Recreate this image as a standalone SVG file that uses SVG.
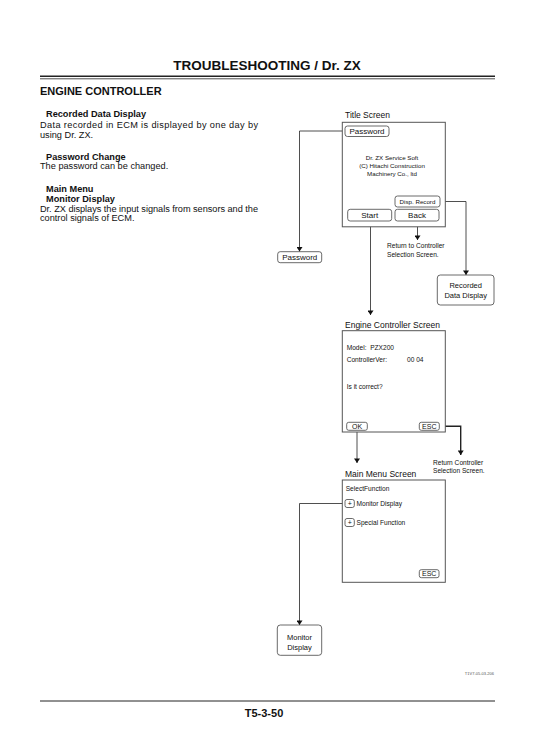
<svg xmlns="http://www.w3.org/2000/svg" width="533" height="754" viewBox="0 0 533 754">
<defs>
<marker id="ah" viewBox="0 0 6 8" refX="6" refY="4" markerWidth="5" markerHeight="6" orient="auto" markerUnits="userSpaceOnUse">
<path d="M0,0 L6,4 L0,8 Z" fill="#111"/>
</marker>
</defs>
<style>
text{font-family:"Liberation Sans",Arial,sans-serif;fill:#111}
.h{font-weight:bold}
.b{font-size:9.2px}
.s{font-size:8.5px}
.t{font-size:6.2px}
.m{font-size:6.6px}
.scr{fill:#fff;stroke:#555;stroke-width:1}
.btn{fill:#fff;stroke:#444;stroke-width:0.8}
.con{fill:none;stroke:#222;stroke-width:0.8;marker-end:url(#ah)}
.c{text-anchor:middle}
</style>
<rect width="533" height="754" fill="#fff"/>
<text x="267" y="70" class="h c" style="font-size:13.5px">TROUBLESHOOTING / Dr. ZX</text>
<line x1="40" y1="76.3" x2="495" y2="76.3" stroke="#222" stroke-width="1.6"/>
<line x1="40" y1="78.8" x2="495" y2="78.8" stroke="#222" stroke-width="0.8"/>
<text x="40" y="95" class="h" style="font-size:11px">ENGINE CONTROLLER</text>
<g id="left-text">
<text x="46" y="117" class="h b">Recorded Data Display</text>
<text x="40" y="128" class="b" textLength="218" lengthAdjust="spacing">Data recorded in ECM is displayed by one day by</text>
<text x="40" y="137.5" class="b">using Dr. ZX.</text>
<text x="46" y="159.5" class="h b">Password Change</text>
<text x="40" y="169" class="b">The password can be changed.</text>
<text x="46" y="191.5" class="h b">Main Menu</text>
<text x="46" y="201.5" class="h b">Monitor Display</text>
<text x="40" y="211.5" class="b" textLength="218" lengthAdjust="spacing">Dr. ZX displays the input signals from sensors and the</text>
<text x="40" y="221" class="b">control signals of ECM.</text>
</g>
<g id="connectors">
<polyline class="con" points="345,131 299.5,131 299.5,251.5"/>
<polyline class="con" points="417.5,221 417.5,240"/>
<polyline class="con" points="440,201.5 466,201.5 466,275"/>
<polyline class="con" points="370.5,221 370.5,315"/>
<polyline class="con" points="357,430.3 357,463"/>
<polyline class="con" points="439.3,426.3 460.7,426.3 460.7,455" style="stroke-width:1.4"/>
<polyline class="con" points="345,503.5 299.5,503.5 299.5,625"/>
</g>
<g id="title-screen">
<text x="345" y="118" class="s">Title Screen</text>
<rect class="scr" x="342.3" y="122.3" width="103" height="104.5"/>
<rect class="btn" x="345" y="126" width="44" height="10.5" rx="2.5"/>
<text x="367" y="134.3" class="c" style="font-size:8px">Password</text>
<text x="392" y="160" class="t c">Dr. ZX Service Soft</text>
<text x="392" y="168.2" class="t c">(C) Hitachi Construction</text>
<text x="392" y="176.4" class="t c">Machinery Co., ltd</text>
<rect class="btn" x="395" y="196" width="45" height="11" rx="2.5"/>
<text x="417.5" y="203.8" class="t c">Disp. Record</text>
<rect class="btn" x="347.7" y="209.3" width="44" height="11.7" rx="2.5"/>
<text x="369.7" y="218.3" class="c" style="font-size:8px">Start</text>
<rect class="btn" x="395" y="209.3" width="44" height="11.7" rx="2.5"/>
<text x="417" y="218.3" class="c" style="font-size:8px">Back</text>
</g>
<g id="back-note">
<text x="387" y="248.3" class="m">Return to Controller</text>
<text x="387" y="257" class="m">Selection Screen.</text>
</g>
<g id="password">
<rect class="btn" x="277.7" y="251.7" width="44" height="11" rx="2.5"/>
<text x="299.7" y="260" class="c" style="font-size:8px">Password</text>
</g>
<g id="recorded-data-display">
<rect class="btn" x="437.3" y="275" width="56.7" height="30" rx="3"/>
<text x="465.7" y="288.3" class="c" style="font-size:7.5px">Recorded</text>
<text x="465.7" y="298" class="c" style="font-size:7.5px">Data Display</text>
</g>
<g id="engine-controller-screen">
<text x="345" y="328" class="s">Engine Controller Screen</text>
<rect class="scr" x="342.3" y="330.7" width="103" height="101.3"/>
<text x="346.7" y="350" class="m" xml:space="preserve">Model:  PZX200</text>
<text x="346.7" y="362" class="m">ControllerVer:</text>
<text x="407" y="362" class="m">00 04</text>
<text x="346.7" y="388.5" class="m">Is it correct?</text>
<rect class="btn" x="346.7" y="422.3" width="20.6" height="8" rx="2"/>
<text x="357" y="429" class="c" style="font-size:7px">OK</text>
<rect class="btn" x="419.3" y="422.3" width="20" height="8" rx="2"/>
<text x="429.3" y="429" class="c" style="font-size:7px">ESC</text>
</g>
<g id="esc-note">
<text x="433" y="465" class="m">Return Controller</text>
<text x="433" y="472.5" class="m">Selection Screen.</text>
</g>
<g id="main-menu-screen">
<text x="345" y="476.5" class="s">Main Menu Screen</text>
<rect class="scr" x="342.3" y="480" width="103" height="102.3"/>
<text x="345.7" y="491" class="m">SelectFunction</text>
<rect class="btn" x="345" y="499.5" width="9.3" height="8" rx="2"/>
<text x="349.7" y="506" class="c" style="font-size:7px">+</text>
<text x="356.5" y="506" class="m">Monitor Display</text>
<rect class="btn" x="345" y="518.5" width="9.3" height="8" rx="2"/>
<text x="349.7" y="525" class="c" style="font-size:7px">+</text>
<text x="356.5" y="525" class="m">Special Function</text>
<rect class="btn" x="419.3" y="569.7" width="19.7" height="8" rx="2"/>
<text x="429.2" y="576.4" class="c" style="font-size:7px">ESC</text>
</g>
<g id="monitor-display">
<rect class="btn" x="277.3" y="625" width="44.4" height="30.3" rx="3"/>
<text x="299.5" y="639.5" class="c" style="font-size:7.5px">Monitor</text>
<text x="299.5" y="649.5" class="c" style="font-size:7.5px">Display</text>
</g>
<text x="494" y="675" text-anchor="end" style="font-size:4px;fill:#555">T1V7-05-03-206</text>
<line x1="40" y1="701" x2="495" y2="701" stroke="#222" stroke-width="1"/>
<text x="264" y="717" class="h c" style="font-size:11px">T5-3-50</text>
</svg>
